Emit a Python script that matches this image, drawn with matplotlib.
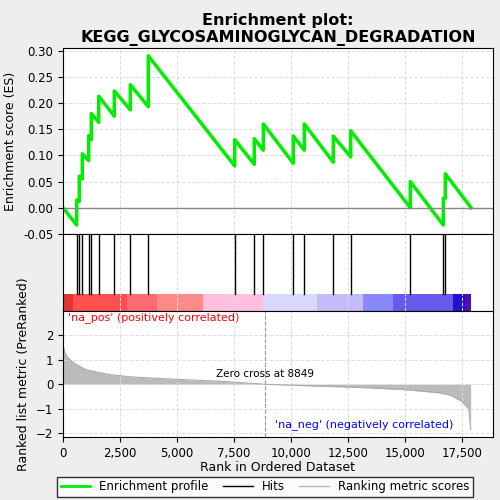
import numpy as np
import matplotlib.pyplot as plt
from matplotlib.lines import Line2D

n_genes = 17900
zero_cross = 8849
hit_ranks = [600, 715, 846, 1127, 1241, 1566, 2250, 2952, 3741, 7530, 8390, 8785,
             10100, 10583, 11855, 12618, 15232, 16680, 16768]
es_before = [-0.033, 0.012, 0.055, 0.09, 0.13, 0.163, 0.175, 0.187, 0.193, 0.08, 0.083, 0.11,
             0.085, 0.11, 0.087, 0.097, 0.0, -0.033, 0.018]
es_after = [0.015, 0.06, 0.103, 0.138, 0.18, 0.213, 0.223, 0.235, 0.29, 0.13, 0.132, 0.16,
            0.137, 0.16, 0.137, 0.147, 0.05, 0.018, 0.065]

metric_rank = [0, 100, 200, 500, 1000, 2000, 3000, 5000, 7000, 8849, 11000, 13000, 15000,
               16500, 17000, 17500, 17800, 17880]
metric_val = [1.6, 1.25, 1.1, 0.85, 0.6, 0.4, 0.3, 0.2, 0.12, 0.0, -0.07, -0.13, -0.22,
              -0.35, -0.45, -0.7, -1.0, -1.85]

bar_edges = [0, 453, 2792, 4108, 6155, 8785, 11126, 13172, 14488, 17120, 17632, 17900]
bar_colors = ['#e8342e', '#ff5050', '#ff6a70', '#ff8a8a', '#ffc0e0', '#d8d8ff', '#c4bcf8',
              '#8888ff', '#6a5aec', '#2010d0', '#5010b0']

fig = plt.figure(figsize=(5, 5), dpi=100, facecolor='#eeeeee')
xmax = 18860
xt = [0, 2500, 5000, 7500, 10000, 12500, 15000, 17500]

# top panel: running enrichment score
ax1 = fig.add_axes([0.126, 0.532, 0.86, 0.372])
xs, ys = [0], [0.0]
for r, b, a in zip(hit_ranks, es_before, es_after):
    xs += [r, r]
    ys += [b, a]
xs.append(n_genes)
ys.append(0.0)
ax1.plot(xs, ys, color='#00ee00', lw=2.5)
ax1.axhline(0, color='#888888', lw=1)
ax1.set_xlim(0, xmax)
ax1.set_ylim(-0.05, 0.305)
ax1.set_yticks(np.arange(-0.05, 0.31, 0.05))
ax1.set_yticklabels(['%.2f' % v for v in np.arange(-0.05, 0.31, 0.05)], fontsize=8.5)
ax1.set_xticks(xt)
ax1.tick_params(axis='x', labelbottom=False, length=0)
ax1.grid(True, color='#dddddd', ls='--', lw=0.7)
ax1.set_ylabel('Enrichment score (ES)', fontsize=9)
ax1.set_title('Enrichment plot:\nKEGG_GLYCOSAMINOGLYCAN_DEGRADATION', fontsize=11.5,
              fontweight='bold', pad=4)

# hits panel
ax2 = fig.add_axes([0.126, 0.378, 0.86, 0.154])
for r in hit_ranks:
    ax2.plot([r, r], [0.22, 1.0], color='black', lw=1)
for i, c in enumerate(bar_colors):
    ax2.axvspan(bar_edges[i], bar_edges[i + 1], ymin=0, ymax=0.22, color=c, lw=0)
ax2.set_xlim(0, xmax)
ax2.set_ylim(0, 1)
ax2.set_xticks(xt)
ax2.grid(True, axis='x', color='#dddddd', ls='--', lw=0.7)
ax2.tick_params(labelbottom=False, labelleft=False, length=0)

# bottom panel: ranked list metric
ax3 = fig.add_axes([0.126, 0.126, 0.86, 0.252])
ax3.fill_between(metric_rank, metric_val, 0, color='#bbbbbb', lw=0)
ax3.plot(metric_rank, metric_val, color='#aaaaaa', lw=0.8)
ax3.axvline(zero_cross, color='#999999', ls='--', lw=0.8)
ax3.set_xlim(0, xmax)
ax3.set_ylim(-2.16, 3.0)
ax3.set_yticks([-2, -1, 0, 1, 2])
ax3.set_xticks(xt)
ax3.set_xticklabels(['0', '2,500', '5,000', '7,500', '10,000', '12,500', '15,000', '17,500'])
ax3.tick_params(labelsize=8.5)
ax3.grid(True, color='#dddddd', ls='--', lw=0.7)
ax3.set_ylabel('Ranked list metric (PreRanked)', fontsize=9)
ax3.set_xlabel('Rank in Ordered Dataset', fontsize=9, labelpad=1)
ax3.text(200, 2.95, "'na_pos' (positively correlated)", color='red', fontsize=8, va='top')
ax3.text(zero_cross, 0.3, 'Zero cross at 8849', fontsize=7.5, ha='center')
ax3.text(9300, -1.75, "'na_neg' (negatively correlated)", color='blue', fontsize=8)

handles = [Line2D([], [], color='#00ee00', lw=2),
           Line2D([], [], color='black', lw=1),
           Line2D([], [], color='#bbbbbb', lw=1)]
fig.legend(handles, ['Enrichment profile', 'Hits', 'Ranking metric scores'],
           loc='lower center', bbox_to_anchor=(0.53, -0.005), ncol=3, fontsize=8.5,
           frameon=True, fancybox=False, edgecolor='black', handlelength=2.5,
           borderpad=0.3, columnspacing=1.2)

fig.savefig('out.png', dpi=100, facecolor=fig.get_facecolor())
